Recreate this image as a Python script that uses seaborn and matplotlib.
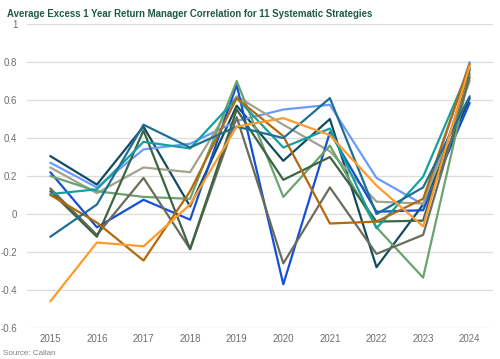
import numpy as np
import pandas as pd
import seaborn as sns
import matplotlib.pyplot as plt

years = [2015, 2016, 2017, 2018, 2019, 2020, 2021, 2022, 2023, 2024]

# one series per strategy
navy = [0.305, 0.155, 0.46, 0.04, 0.57, 0.28, 0.50, -0.28, 0.05, 0.61]
light_blue = [0.27, 0.14, 0.34, 0.37, 0.49, 0.55, 0.575, 0.19, 0.05, 0.80]
beige = [0.245, 0.11, 0.245, 0.22, 0.62, 0.47, 0.33, 0.065, 0.055, 0.70]
blue = [0.22, -0.07, 0.075, -0.03, 0.68, -0.37, 0.43, 0.012, 0.02, 0.585]
green = [0.20, 0.12, 0.09, 0.08, 0.70, 0.09, 0.36, -0.07, -0.335, 0.74]
olive_gray = [0.135, -0.11, 0.19, -0.185, 0.51, -0.26, 0.14, -0.21, -0.11, 0.72]
dark_olive = [0.12, -0.12, 0.44, -0.185, 0.55, 0.18, 0.30, -0.04, -0.035, 0.76]
teal = [0.105, 0.13, 0.38, 0.345, 0.61, 0.35, 0.45, -0.075, 0.196, 0.77]
brown = [0.10, -0.045, -0.245, 0.12, 0.61, 0.41, -0.05, -0.04, 0.08, 0.79]
steel = [-0.12, 0.05, 0.47, 0.35, 0.46, 0.40, 0.61, 0.0, 0.14, 0.62]
orange = [-0.46, -0.15, -0.17, 0.05, 0.46, 0.505, 0.415, 0.15, -0.065, 0.78]

series = {
    "navy": navy, "light_blue": light_blue, "beige": beige, "blue": blue,
    "green": green, "olive_gray": olive_gray, "dark_olive": dark_olive,
    "teal": teal, "brown": brown, "steel": steel, "orange": orange,
}
colors = {
    "navy": "#134b5f", "light_blue": "#6b9bff", "beige": "#a3a38c",
    "blue": "#1450d6", "green": "#6aa36c", "olive_gray": "#6c6c5c",
    "dark_olive": "#3e6446", "teal": "#13a0a0", "brown": "#b3690c",
    "steel": "#1f6f94", "orange": "#ff9b2a",
}

df = pd.DataFrame(
    [(y, name, v) for name, vals in series.items() for y, v in zip(years, vals)],
    columns=["year", "strategy", "corr"],
)

sns.set_style("white")
plt.rcParams["font.family"] = ["Liberation Sans", "DejaVu Sans"]

fig = plt.figure(figsize=(5.0, 3.59), dpi=100)
ax = fig.add_axes([0.054, 0.0864, 0.932, 0.8466])

sns.lineplot(data=df, x="year", y="corr", hue="strategy", palette=colors,
             linewidth=1.6, legend=False, ax=ax, zorder=3)

ax.set_xlim(2014.5, 2024.5)
ax.set_ylim(-0.6, 1.0)
ax.set_xticks(years)
ax.set_yticks(np.arange(-0.6, 1.01, 0.2))
ax.set_yticklabels(["-0.6", "-0.4", "-0.2", "0", "0.2", "0.4", "0.6", "0.8", "1"])
ax.grid(axis="y", color="#dcdcdc", linewidth=0.9, zorder=0)
for s in ax.spines.values():
    s.set_visible(False)
ax.tick_params(length=0, labelsize=7, colors="#6e6e6e")
ax.tick_params(axis="x", pad=4)
ax.tick_params(axis="y", pad=7)
ax.set_xlabel("")
ax.set_ylabel("")

fig.text(0.014, 0.975, "Average Excess 1 Year Return Manager Correlation for 11 Systematic Strategies",
         fontsize=6.9, fontweight="bold", color="#1e5a46", va="top", ha="left")
fig.text(0.006, 0.006, "Source: Callan", fontsize=5.8, color="#808080", va="bottom", ha="left")

fig.savefig("out.png", dpi=100)
